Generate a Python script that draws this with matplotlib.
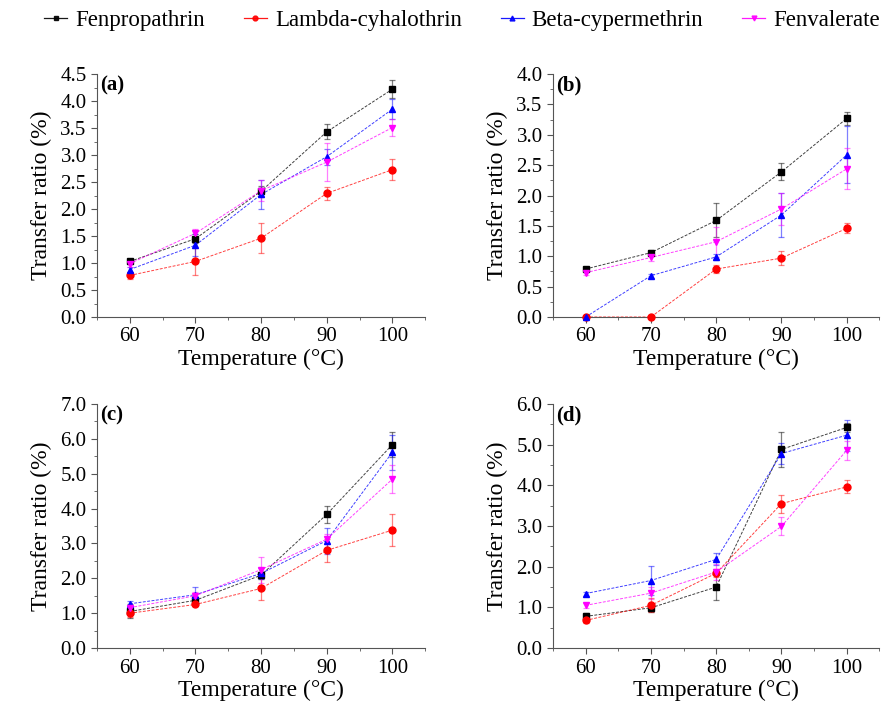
# transfer ratio vs temperature, four panels
import matplotlib
matplotlib.use('Agg')
import matplotlib.pyplot as plt
from matplotlib.ticker import MultipleLocator, FormatStrFormatter

plt.rcParams['font.family'] = ['Liberation Serif', 'DejaVu Serif']

# data
temps = [60, 70, 80, 90, 100]
names = ['Fenpropathrin', 'Lambda-cyhalothrin', 'Beta-cypermethrin', 'Fenvalerate']
panel_labels = ['(a)', '(b)', '(c)', '(d)']

# panel (a)
a_fen = [1.03, 1.45, 2.33, 3.43, 4.22]
a_lam = [0.77, 1.03, 1.46, 2.29, 2.73]
a_bet = [0.88, 1.33, 2.27, 2.97, 3.85]
a_fvl = [0.99, 1.55, 2.34, 2.87, 3.51]
a_fen_err = [0.05, 0.08, 0.10, 0.14, 0.17]
a_lam_err = [0.06, 0.25, 0.28, 0.12, 0.20]
a_bet_err = [0.05, 0.20, 0.27, 0.15, 0.18]
a_fvl_err = [0.06, 0.08, 0.20, 0.35, 0.15]

# panel (b)
b_fen = [0.79, 1.06, 1.59, 2.39, 3.27]
b_lam = [0.00, 0.00, 0.79, 0.97, 1.46]
b_bet = [0.00, 0.68, 0.99, 1.68, 2.67]
b_fvl = [0.73, 0.98, 1.24, 1.78, 2.44]
b_fen_err = [0.03, 0.04, 0.28, 0.14, 0.11]
b_lam_err = [0.00, 0.00, 0.07, 0.12, 0.08]
b_bet_err = [0.02, 0.03, 0.05, 0.36, 0.47]
b_fvl_err = [0.04, 0.05, 0.25, 0.26, 0.34]

# panel (c)
c_fen = [1.05, 1.37, 2.09, 3.83, 5.83]
c_lam = [1.00, 1.25, 1.71, 2.80, 3.38]
c_bet = [1.27, 1.53, 2.14, 3.08, 5.61]
c_fvl = [1.16, 1.50, 2.25, 3.12, 4.84]
c_fen_err = [0.20, 0.10, 0.10, 0.24, 0.36]
c_lam_err = [0.10, 0.05, 0.34, 0.33, 0.46]
c_bet_err = [0.08, 0.22, 0.15, 0.37, 0.50]
c_fvl_err = [0.06, 0.10, 0.37, 0.15, 0.40]

# panel (d)
d_fen = [0.78, 0.99, 1.50, 4.88, 5.42]
d_lam = [0.68, 1.05, 1.84, 3.55, 3.96]
d_bet = [1.34, 1.66, 2.18, 4.78, 5.23]
d_fvl = [1.05, 1.35, 1.87, 2.99, 4.86]
d_fen_err = [0.08, 0.10, 0.33, 0.42, 0.10]
d_lam_err = [0.07, 0.17, 0.10, 0.22, 0.16]
d_bet_err = [0.05, 0.36, 0.15, 0.25, 0.38]
d_fvl_err = [0.06, 0.15, 0.20, 0.22, 0.23]

y_tops = [4.5, 4.0, 7.0, 6.0]
y_steps = [0.5, 0.5, 1.0, 1.0]

colors = ['#000000', '#ff0000', '#0000ff', '#ff00ff']
markers = ['s', 'o', '^', 'v']

panels = [
    ([a_fen, a_lam, a_bet, a_fvl], [a_fen_err, a_lam_err, a_bet_err, a_fvl_err]),
    ([b_fen, b_lam, b_bet, b_fvl], [b_fen_err, b_lam_err, b_bet_err, b_fvl_err]),
    ([c_fen, c_lam, c_bet, c_fvl], [c_fen_err, c_lam_err, c_bet_err, c_fvl_err]),
    ([d_fen, d_lam, d_bet, d_fvl], [d_fen_err, d_lam_err, d_bet_err, d_fvl_err]),
]

# axes positions in figure fraction [left, bottom, width, height]
positions = [
    [0.110, 0.551, 0.372, 0.344],
    [0.627, 0.551, 0.370, 0.344],
    [0.110, 0.082, 0.372, 0.346],
    [0.627, 0.082, 0.370, 0.346],
]

fig = plt.figure(figsize=(8.82, 7.06), dpi=100)

handles = []
for k in range(4):
    ax = fig.add_axes(positions[k])
    series, errs = panels[k]
    for j in range(4):
        # error bars drawn lighter behind the markers
        ax.errorbar(temps, series[j], yerr=errs[j], fmt='none', ecolor=colors[j],
                    elinewidth=0.9, capsize=2.5, capthick=0.9, alpha=0.5, zorder=2)
        # thin dashed connecting line, then the markers on top
        ax.plot(temps, series[j], color=colors[j], linewidth=0.7,
                linestyle=(0, (3, 1.5)), alpha=0.75, zorder=3)
        ax.plot(temps, series[j], color=colors[j], marker=markers[j],
                markersize=5, linestyle='none', zorder=4, clip_on=False)
        if k == 0:
            h, = ax.plot([], [], color=colors[j], marker=markers[j], markersize=3.5,
                         linewidth=0.9, alpha=0.9, label=names[j])
            handles.append(h)

    ax.set_xlim(55, 105)
    ax.set_ylim(0, y_tops[k])
    ax.xaxis.set_major_locator(MultipleLocator(10))
    ax.xaxis.set_minor_locator(MultipleLocator(5))
    ax.yaxis.set_major_locator(MultipleLocator(y_steps[k]))
    ax.yaxis.set_minor_locator(MultipleLocator(y_steps[k] / 2))
    ax.yaxis.set_major_formatter(FormatStrFormatter('%.1f'))
    ax.tick_params(which='both', direction='out', labelsize=15, color='#555555')
    ax.tick_params(which='major', length=4)
    ax.tick_params(which='minor', length=2)

    # only left and bottom spines
    ax.spines['top'].set_visible(False)
    ax.spines['right'].set_visible(False)
    ax.spines['left'].set_color('#555555')
    ax.spines['bottom'].set_color('#555555')

    ax.set_xlabel('Temperature (°C)', fontsize=17, labelpad=2)
    ax.set_ylabel('Transfer ratio (%)', fontsize=17, labelpad=6)
    ax.text(0.01, 0.995, panel_labels[k], transform=ax.transAxes, fontsize=15,
            fontweight='bold', va='top', ha='left')

fig.legend(handles=handles, loc='upper center', ncol=4, frameon=False,
           bbox_to_anchor=(0.524, 1.008), fontsize=16.5, columnspacing=1.7,
           handlelength=1.0, handletextpad=0.35, borderaxespad=0.3)

plt.savefig('out.png', dpi=100)
